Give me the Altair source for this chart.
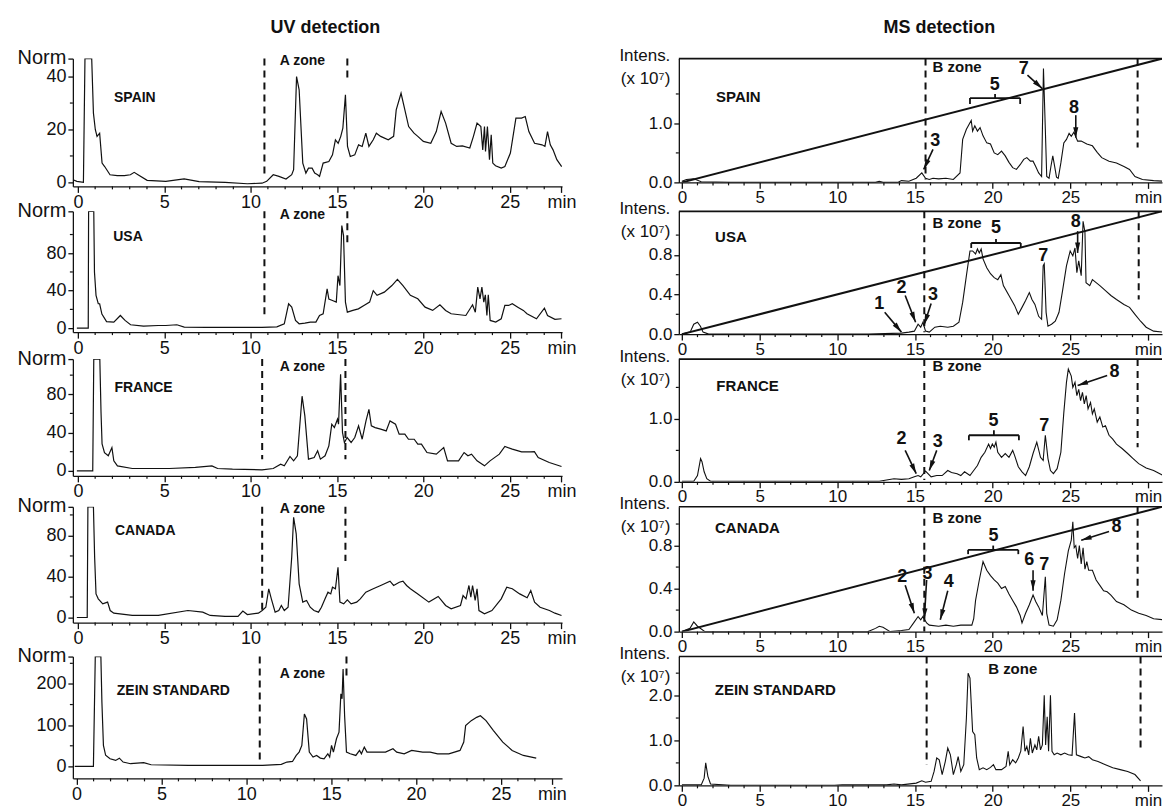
import math
import altair as alt
import pandas as pd

FONT = "Liberation Sans"
INK = "#111111"

# ---------------- UV traces: (time [min], absorbance [Norm]) ----------------
UV_SPAIN = [(-0.28, 1.0), (-0.06, 0.4), (0.32, 0.0), (0.41, 46.8), (0.8, 46.8), (0.9, 26.2), (1.01, 19.9),
            (1.11, 17.4), (1.26, 18.6), (1.4, 7.3), (1.55, 6.0), (1.86, 2.9), (2.28, 2.6), (2.69, 2.6),
            (3.04, 2.9), (3.26, 3.8), (3.48, 2.9), (4.01, 0.8), (5.09, 0.4), (6.15, 1.3), (7.02, 0.3),
            (8.52, 0.0), (9.81, -0.5), (10.66, -0.3), (10.93, 0.4), (11.31, 2.9), (11.64, 2.3), (12.05, 1.3),
            (12.38, 2.9), (12.49, 4.8), (12.66, 40.0), (12.81, 35.0), (13.02, 7.3), (13.2, 3.5), (13.35, 5.4),
            (13.56, 5.4), (13.71, 3.5), (13.88, 2.9), (13.99, 2.3), (14.2, 7.3), (14.53, 7.9), (14.74, 10.4),
            (14.91, 16.1), (15.07, 14.8), (15.22, 17.4), (15.34, 20.5), (15.49, 33.1), (15.61, 13.6),
            (15.77, 9.8), (16.03, 10.4), (16.25, 14.2), (16.46, 13.6), (16.67, 18.6), (16.85, 13.6),
            (17.1, 16.1), (17.28, 18.6), (17.53, 17.4), (17.97, 16.1), (18.28, 17.4), (18.43, 27.4),
            (18.71, 33.7), (18.93, 27.4), (19.15, 21.1), (19.46, 18.6), (19.68, 17.4), (20.0, 15.5),
            (20.43, 14.8), (20.75, 19.2), (21.03, 26.8), (21.29, 22.4), (21.61, 14.8), (21.93, 13.6),
            (22.26, 13.8), (22.69, 13.0), (22.9, 17.4), (23.11, 22.4), (23.33, 21.1), (23.44, 12.3),
            (23.54, 21.1), (23.6, 11.7), (23.71, 21.1), (23.83, 8.6), (23.93, 18.0), (24.02, 7.3),
            (24.18, 6.3), (24.51, 5.4), (24.72, 6.0), (25.04, 11.1), (25.36, 24.3), (25.69, 24.3),
            (25.9, 24.9), (26.11, 19.2), (26.44, 14.8), (26.87, 14.2), (27.04, 13.6), (27.19, 19.2),
            (27.35, 14.2), (27.51, 12.3), (27.73, 8.6), (28.01, 6.0)]

UV_USA = [(-0.06, 0), (0.6, 0), (0.62, 124.8), (0.92, 124.8), (0.96, 60), (1.05, 35), (1.18, 26), (1.26, 26),
          (1.39, 15), (1.66, 7), (2.08, 6.4), (2.46, 13.5), (2.73, 8.2), (3.05, 3.6), (3.8, 2.1), (4.65, 2.8),
          (5.09, 2.8), (5.73, 3.6), (6.16, 1.1), (7.45, 0.7), (9.6, 0.7), (10.66, 0.7), (11.52, 1.4),
          (11.95, 4.6), (12.2, 26), (12.38, 22.4), (12.6, 8.2), (12.81, 4.6), (13.14, 5.3), (13.46, 6.4),
          (13.78, 6.4), (13.99, 13.5), (14.2, 15.3), (14.43, 42), (14.53, 31), (14.74, 29.5), (14.96, 27.8),
          (15.06, 56), (15.17, 45.5), (15.28, 109.6), (15.38, 98.9), (15.49, 27.8), (15.6, 17), (15.92, 18.9),
          (16.24, 20.6), (16.56, 24.2), (16.89, 27.8), (17.1, 40), (17.32, 35), (17.74, 38.4), (18.18, 45.5),
          (18.5, 52), (18.82, 45.5), (19.25, 35), (19.68, 31.3), (20.1, 22.4), (20.54, 18.9), (20.96, 24.9),
          (21.29, 18.9), (21.61, 15.3), (22.46, 13.5), (22.85, 24.9), (23.01, 17), (23.15, 43.8),
          (23.28, 31.3), (23.39, 43.8), (23.5, 27.8), (23.59, 35.6), (23.68, 13.5), (23.76, 35.6),
          (23.87, 8.2), (24.19, 6.4), (24.51, 10), (24.72, 24.2), (24.94, 24.2), (25.15, 26), (25.47, 22.4),
          (25.79, 18.9), (26.0, 15.3), (26.55, 10), (27.01, 21.4), (27.19, 13.5), (27.62, 9.3), (28.0, 10)]

UV_FRANCE = [(-0.06, 0), (0.86, 0), (0.92, 116.8), (1.27, 116.8), (1.34, 61), (1.4, 28), (1.54, 19),
             (1.76, 15.7), (1.97, 24.3), (2.08, 10.4), (2.29, 5.2), (3.15, 2.4), (5.3, 2.4), (6.8, 3.5),
             (7.76, 5.2), (8.09, 2.4), (8.95, 1.7), (10.66, 1.0), (11.31, 2.4), (11.74, 7.0), (11.95, 5.2),
             (12.28, 15), (12.49, 10.4), (12.71, 15.7), (12.98, 78), (13.14, 57.4), (13.35, 12.2),
             (13.68, 13.9), (13.88, 20.9), (14.04, 12.2), (14.31, 15.7), (14.53, 26.1), (14.7, 48.7),
             (14.85, 45.2), (15.03, 53.9), (15.09, 48.7), (15.21, 100.9), (15.32, 40), (15.43, 29.6),
             (15.59, 34.8), (15.82, 29.6), (16.03, 34.8), (16.25, 47), (16.46, 33), (16.68, 52.2),
             (16.85, 64.3), (16.99, 47), (17.21, 45.2), (17.53, 43.5), (17.85, 41.7), (18.07, 52.2),
             (18.39, 48.7), (18.6, 38.3), (18.93, 38.3), (19.14, 33), (19.47, 33), (19.68, 27.8),
             (19.89, 27.8), (20.21, 19.1), (20.75, 17.4), (21.18, 24.3), (21.4, 10.4), (22.04, 10.4),
             (22.36, 19.1), (22.58, 15.7), (22.79, 17.4), (23.11, 10.4), (23.54, 5.2), (23.86, 10.4),
             (24.4, 17.4), (24.72, 25.4), (25.15, 22.6), (25.69, 19.8), (26.22, 19.8), (26.43, 20),
             (26.65, 13.9), (27.29, 8.7), (28.0, 4.5)]

UV_CANADA = [(-0.06, 0), (0.54, 0), (0.58, 107.9), (0.9, 107.9), (0.97, 58.8), (1.05, 23), (1.18, 18.2),
             (1.44, 13.3), (1.72, 15), (1.87, 6.8), (2.08, 4.2), (3.15, 2), (4.66, 2), (6.37, 6.8), (7.23, 5.2),
             (7.66, 2), (8.52, 1), (9.27, 1), (9.55, 6.2), (9.81, 2.9), (10.45, 4.2), (10.67, 6.8), (10.88, 10),
             (11.05, 28), (11.2, 18.2), (11.42, 5.2), (11.63, 6.8), (11.78, 11.7), (11.95, 6.8), (12.17, 10),
             (12.38, 58.8), (12.49, 97.7), (12.64, 81.5), (12.81, 32.8), (13.02, 15), (13.24, 16.6),
             (13.45, 10), (13.67, 6.8), (13.93, 5.2), (14.1, 10), (14.31, 18.2), (14.48, 24.7), (14.64, 23),
             (14.74, 29.5), (14.91, 27.9), (15.06, 49), (15.17, 15), (15.39, 13.3), (15.6, 17.2),
             (15.82, 13.3), (16.14, 15), (16.35, 18.2), (16.67, 24.7), (17.1, 28), (17.53, 31.2),
             (18.07, 35.4), (18.28, 31.2), (18.61, 34.4), (18.82, 35.4), (19.03, 31.2), (19.25, 28),
             (19.68, 23), (20.32, 15), (20.86, 20.5), (21.29, 11.7), (21.61, 8.4), (22.15, 11.7), (22.3, 21.4),
             (22.47, 18.2), (22.64, 31.2), (22.75, 19.8), (22.85, 31.2), (23.0, 16.6), (23.11, 27.9),
             (23.22, 6.8), (23.54, 3.6), (23.97, 6.8), (24.51, 18.2), (24.83, 29.5), (25.15, 28), (25.58, 23),
             (26.01, 19.2), (26.22, 26.3), (26.44, 15), (26.76, 10), (27.3, 6.8), (27.62, 4.2), (28.0, 2)]

UV_ZEIN = [(-0.11, 0), (0.99, 0), (1.1, 266.4), (1.43, 266.4), (1.49, 156), (1.58, 51), (1.71, 27), (1.97, 18.5),
           (2.3, 14.5), (2.52, 20), (2.74, 10.5), (3.18, 6.5), (3.95, 9), (4.39, 4), (6.58, 2.4), (8.77, 2.4),
           (10.96, 2.4), (12.06, 4.8), (12.39, 10.5), (12.72, 12), (12.94, 26.6), (13.11, 34.7), (13.27, 51),
           (13.42, 127), (13.55, 115), (13.71, 34.7), (13.93, 22.6), (14.14, 26.6), (14.36, 20.2),
           (14.58, 18.5), (14.8, 30.6), (14.91, 22.6), (15.02, 51), (15.13, 34.7), (15.31, 67), (15.46, 83),
           (15.57, 176), (15.64, 164), (15.7, 236), (15.79, 123), (15.9, 34.7), (16.12, 30.6), (16.45, 26.6),
           (16.67, 38.7), (16.78, 30.6), (16.95, 46.8), (17.11, 34.7), (17.54, 34.7), (18.2, 34.7),
           (18.64, 42.7), (18.86, 34.7), (19.3, 30.6), (19.74, 38.7), (20.39, 34.7), (20.83, 34.7),
           (21.27, 30.6), (21.93, 30.6), (22.59, 38.7), (22.81, 58.9), (22.92, 99), (23.25, 111),
           (23.57, 119), (23.79, 123), (24.12, 111), (24.56, 87), (25.11, 58.9), (25.66, 38.7),
           (26.32, 26.6), (27.08, 20.2)]

# ---------------- MS traces: (time [min], intensity [x 10^7]) ----------------
MS_SPAIN = [(0, 0.02), (0.29, 0.05), (0.76, 0.06), (1.24, 0.01), (3.15, 0), (12.46, 0), (12.7, 0.02),
            (12.94, 0), (13.89, 0), (14.13, 0.03), (14.61, 0.02), (15.08, 0.07), (15.44, 0.16), (15.68, 0.07),
            (15.92, 0.05), (16.16, 0.07), (16.52, 0.06), (16.99, 0.07), (17.47, 0.05), (17.9, 0.16),
            (18.07, 0.73), (18.31, 0.9), (18.62, 1.05), (18.71, 0.87), (18.85, 0.96), (19.02, 0.87),
            (19.19, 0.93), (19.38, 0.79), (19.62, 0.67), (19.86, 0.65), (20.1, 0.5), (20.33, 0.47),
            (20.57, 0.53), (20.81, 0.45), (21.05, 0.34), (21.29, 0.25), (21.53, 0.22), (21.77, 0.3),
            (22.0, 0.39), (22.2, 0.42), (22.43, 0.36), (22.6, 0.36), (22.77, 0.27), (22.96, 0.16),
            (23.15, 0.1), (23.27, 1.93), (23.39, 0.9), (23.48, 0.1), (23.63, 0.07), (23.75, 0.27),
            (23.87, 0.45), (23.99, 0.27), (24.11, 0.09), (24.22, 0.07), (24.39, 0.33), (24.58, 0.67),
            (24.75, 0.73), (24.92, 0.83), (25.06, 0.78), (25.23, 0.85), (25.47, 0.7), (25.7, 0.7),
            (26.06, 0.65), (26.42, 0.62), (26.73, 0.51), (27.02, 0.42), (27.49, 0.36), (27.97, 0.33),
            (28.45, 0.27), (28.81, 0.22), (29.16, 0.1), (29.64, 0.05), (30.36, 0.03), (31.0, 0.02)]

MS_USA = [(0, 0), (0.53, 0.02), (0.76, 0.1), (1.0, 0.12), (1.19, 0.08), (1.36, 0.02), (1.72, 0), (3.15, 0),
          (10.31, 0), (11.98, 0), (14.13, 0.01), (14.61, 0.02), (14.96, 0.03), (15.2, 0.1), (15.37, 0.07),
          (15.51, 0.12), (15.68, 0.03), (15.92, 0.02), (16.28, 0.07), (16.63, 0.08), (17.11, 0.07),
          (17.47, 0.08), (17.83, 0.12), (18.07, 0.32), (18.31, 0.59), (18.54, 0.84), (18.71, 0.84),
          (18.9, 0.81), (19.02, 0.86), (19.14, 0.82), (19.26, 0.86), (19.38, 0.76), (19.62, 0.67),
          (19.86, 0.61), (20.1, 0.57), (20.33, 0.55), (20.53, 0.6), (20.69, 0.49), (21.05, 0.39),
          (21.41, 0.29), (21.65, 0.2), (21.89, 0.27), (22.12, 0.34), (22.36, 0.42), (22.53, 0.35),
          (22.72, 0.3), (22.96, 0.18), (23.15, 0.15), (23.25, 0.69), (23.32, 0.71), (23.44, 0.22),
          (23.56, 0.08), (23.79, 0.1), (24.03, 0.13), (24.27, 0.22), (24.51, 0.45), (24.75, 0.69),
          (24.99, 0.84), (25.16, 0.79), (25.3, 0.87), (25.42, 0.62), (25.54, 0.74), (25.7, 0.59),
          (25.82, 1.14), (25.94, 1.03), (26.01, 0.52), (26.25, 0.49), (26.42, 0.55), (26.66, 0.52),
          (26.9, 0.49), (27.26, 0.44), (27.61, 0.39), (27.97, 0.35), (28.45, 0.3), (28.81, 0.27),
          (29.16, 0.2), (29.52, 0.13), (29.88, 0.07), (30.36, 0.03), (31.0, 0.02)]

MS_FRANCE = [(0, 0.01), (0.76, 0.01), (1.0, 0.1), (1.2, 0.37), (1.29, 0.32), (1.43, 0.16), (1.6, 0.05),
             (1.84, 0.01), (7.92, 0.01), (12.7, 0.01), (13.17, 0.03), (13.65, 0.05), (14.13, 0.04),
             (14.61, 0.05), (14.96, 0.08), (15.2, 0.1), (15.37, 0.08), (15.68, 0.17), (16.04, 0.08),
             (16.4, 0.1), (16.75, 0.1), (17.11, 0.18), (17.35, 0.15), (17.71, 0.13), (17.95, 0.1),
             (18.19, 0.16), (18.54, 0.1), (18.78, 0.18), (19.02, 0.26), (19.26, 0.39), (19.5, 0.47),
             (19.74, 0.6), (19.86, 0.53), (19.98, 0.6), (20.1, 0.55), (20.21, 0.63), (20.33, 0.47),
             (20.57, 0.39), (20.81, 0.45), (21.05, 0.39), (21.29, 0.5), (21.41, 0.42), (21.65, 0.24),
             (21.89, 0.16), (22.12, 0.1), (22.36, 0.24), (22.6, 0.45), (22.84, 0.63), (23.08, 0.39),
             (23.25, 0.34), (23.39, 0.74), (23.56, 0.37), (23.72, 0.18), (23.91, 0.13), (24.15, 0.21),
             (24.39, 0.47), (24.58, 1.1), (24.75, 1.58), (24.87, 1.79), (25.06, 1.68), (25.16, 1.5),
             (25.3, 1.58), (25.42, 1.37), (25.54, 1.47), (25.66, 1.29), (25.78, 1.42), (25.9, 1.24),
             (26.02, 1.37), (26.14, 1.16), (26.3, 1.26), (26.42, 1.08), (26.54, 1.16), (26.73, 0.95),
             (26.9, 1.03), (27.09, 0.87), (27.26, 0.89), (27.49, 0.74), (27.73, 0.68), (27.97, 0.6),
             (28.33, 0.53), (28.69, 0.45), (29.04, 0.37), (29.4, 0.29), (29.88, 0.22), (30.36, 0.18),
             (31.0, 0.1)]

MS_CANADA = [(0, 0), (0.52, 0.03), (0.76, 0.09), (1.0, 0.05), (1.48, 0), (3.15, 0), (11.98, 0), (12.46, 0.03),
             (12.7, 0.05), (12.94, 0.04), (13.4, 0), (14.13, 0.01), (14.61, 0.02), (14.96, 0.09), (15.2, 0.14),
             (15.37, 0.11), (15.51, 0.14), (15.75, 0.08), (15.92, 0.06), (16.52, 0.05), (16.99, 0.06),
             (17.47, 0.05), (17.95, 0.06), (18.43, 0.06), (18.66, 0.06), (18.78, 0.12), (18.9, 0.29),
             (19.14, 0.48), (19.38, 0.65), (19.62, 0.57), (19.86, 0.52), (20.1, 0.48), (20.33, 0.45),
             (20.57, 0.4), (20.81, 0.42), (21.05, 0.35), (21.29, 0.29), (21.53, 0.23), (21.77, 0.15),
             (21.89, 0.08), (22.12, 0.17), (22.36, 0.25), (22.6, 0.34), (22.77, 0.28), (22.96, 0.23),
             (23.2, 0.15), (23.39, 0.51), (23.48, 0.17), (23.63, 0.06), (23.91, 0.05), (24.15, 0.11),
             (24.39, 0.29), (24.63, 0.54), (24.87, 0.75), (25.06, 0.85), (25.16, 1.02), (25.25, 0.78),
             (25.35, 0.8), (25.47, 0.68), (25.58, 0.8), (25.7, 0.63), (25.82, 0.78), (25.94, 0.58),
             (26.06, 0.65), (26.18, 0.57), (26.42, 0.57), (26.66, 0.48), (26.9, 0.43), (27.14, 0.38),
             (27.37, 0.37), (27.61, 0.34), (27.97, 0.28), (28.45, 0.25), (28.93, 0.2), (29.4, 0.17),
             (29.88, 0.15), (30.36, 0.12), (31.0, 0.11)]

MS_ZEIN = [(0, 0.01), (1.24, 0.01), (1.43, 0.16), (1.53, 0.5), (1.67, 0.2), (1.84, 0.03), (3.15, 0), (7.92, 0),
           (9.83, 0), (10.31, 0.01), (10.79, 0.01), (13.17, 0.01), (13.65, 0.03), (14.13, 0.01), (15.08, 0.05),
           (15.44, 0.1), (15.68, 0.07), (16.04, 0.09), (16.23, 0.31), (16.4, 0.61), (16.56, 0.57),
           (16.75, 0.24), (16.95, 0.53), (17.11, 0.83), (17.28, 0.68), (17.47, 0.24), (17.66, 0.46),
           (17.78, 0.64), (17.95, 0.31), (18.14, 0.46), (18.31, 1.5), (18.42, 2.5), (18.54, 2.39),
           (18.71, 1.2), (18.85, 1.13), (18.97, 0.61), (19.14, 0.35), (19.38, 0.39), (19.62, 0.35),
           (19.86, 0.4), (20.05, 0.46), (20.21, 0.35), (20.57, 0.35), (20.86, 0.42), (21.0, 0.76),
           (21.1, 0.46), (21.29, 0.57), (21.48, 0.5), (21.65, 0.61), (21.81, 0.76), (21.96, 1.31),
           (22.08, 0.76), (22.2, 0.87), (22.32, 0.68), (22.43, 1.05), (22.55, 0.72), (22.72, 0.9),
           (22.84, 0.79), (22.96, 1.09), (23.08, 0.79), (23.2, 0.9), (23.32, 2.01), (23.41, 0.9),
           (23.51, 1.53), (23.6, 0.76), (23.72, 2.01), (23.82, 0.76), (23.96, 0.68), (24.15, 0.72),
           (24.39, 0.68), (24.63, 0.72), (24.87, 0.68), (25.11, 0.67), (25.27, 1.61), (25.39, 0.68),
           (25.7, 0.64), (25.94, 0.61), (26.18, 0.64), (26.42, 0.57), (26.78, 0.53), (27.26, 0.46),
           (27.73, 0.39), (28.21, 0.35), (28.69, 0.31), (29.16, 0.24), (29.52, 0.1)]

# solvent-gradient line on three MS panels (runs corner to corner of the plot frame)
GRADIENT_T = [0.0, 30.9]

UV_PANELS = [
    dict(name="SPAIN", trace=UV_SPAIN, label=(3.3, 31.8), zone=(13.0, 46.0),
         dashes=[(10.8, 46.8, 2.3), (15.6, 46.8, 39.4)], xdom=(-0.29, 28.03), ydom=(-1.5, 46.8),
         ylabels=[0, 20, 40], yminor=[10, 30], h=128, min_label="\u2002\u2002min"),
    dict(name="USA", trace=UV_USA, label=(2.9, 97), zone=(13.0, 121),
         dashes=[(10.8, 124.8, 10), (15.6, 124.8, 88)], xdom=(-0.29, 28.03), ydom=(-4.3, 124.8),
         ylabels=[0, 40, 80], yminor=[20, 60, 100], h=121, min_label="\u2002\u2002min"),
    dict(name="FRANCE", trace=UV_FRANCE, label=(3.8, 87), zone=(13.0, 109),
         dashes=[(10.67, 116.8, 12), (15.49, 116.8, 12)], xdom=(-0.29, 28.03), ydom=(-5.3, 116.8),
         ylabels=[0, 40, 80], yminor=[20, 60, 100], h=117, min_label="\u2002\u2002min"),
    dict(name="CANADA", trace=UV_CANADA, label=(3.9, 84.7), zone=(13.0, 106),
         dashes=[(10.67, 107.9, 7), (15.49, 107.9, 55)], xdom=(-0.29, 28.03), ydom=(-5.0, 107.9),
         ylabels=[0, 40, 80], yminor=[20, 60, 100], h=116, min_label="\u2002\u2002min"),
    dict(name="ZEIN STANDARD", trace=UV_ZEIN, label=(5.7, 184), zone=(13.3, 224),
         dashes=[(10.79, 266.4, 10.5), (15.9, 266.4, 212)], xdom=(-0.22, 28.6), ydom=(-29, 266.4),
         ylabels=[0, 100, 200], yminor=[50, 150, 250], h=122, min_label="min\u2002\u2002"),
]

MS_PANELS = [
    dict(name="SPAIN", trace=MS_SPAIN, h=124, ydom=(0, 2.1), ylabels=[0, 1], yminor=[0.5, 1.5],
         label=(3.63, 1.45), zone=(17.71, 1.95), dashes=[(15.68, 2.1, 0.05), (29.33, 2.1, 0.59)],
         grad=[0.0, 2.1], bracket=(18.54, 21.77, 1.43, 1.33, 1.5),
         numbers=[("3", 16.3, 0.7), ("5", 20.14, 1.65), ("7", 22.0, 1.93), ("8", 25.23, 1.26)],
         arrows=[(16.16, 0.56, 15.56, 0.22), (22.24, 1.82, 23.2, 1.59), (25.35, 1.14, 25.35, 0.76)]),
    dict(name="USA", trace=MS_USA, h=123, ydom=(0, 1.24), ylabels=[0, 0.4, 0.8], yminor=[0.2, 0.6, 1.0],
         label=(3.15, 0.98), zone=(17.71, 1.12),
         dashes=[(15.6, 1.24, 0.02), (29.4, 1.24, 0.35)], grad=[0.0, 1.24],
         bracket=(18.62, 21.81, 0.92, 0.87, 0.96),
         numbers=[("1", 12.7, 0.3), ("2", 14.13, 0.47), ("3", 16.16, 0.39), ("5", 20.21, 1.07),
                  ("7", 23.25, 0.79), ("8", 25.35, 1.13)],
         arrows=[(13.05, 0.22, 14.13, 0.02), (14.37, 0.39, 15.04, 0.12), (16.04, 0.31, 15.6, 0.1),
                 (25.47, 1.04, 25.47, 0.82)]),
    dict(name="FRANCE", trace=MS_FRANCE, h=123, ydom=(0, 1.95), ylabels=[0, 1], yminor=[0.5, 1.5],
         label=(4.22, 1.52), zone=(17.71, 1.84), dashes=[(15.6, 1.95, 0.03), (29.33, 1.95, 0.55)],
         grad=None, bracket=(18.47, 21.69, 0.74, 0.66, 0.82),
         numbers=[("2", 14.13, 0.68), ("3", 16.47, 0.63), ("5", 20.05, 0.96), ("7", 23.32, 0.89),
                  ("8", 27.85, 1.74)],
         arrows=[(14.37, 0.5, 15.08, 0.13), (16.4, 0.5, 15.92, 0.18), (27.37, 1.69, 25.47, 1.53)]),
    dict(name="CANADA", trace=MS_CANADA, h=125, ydom=(0, 1.16), ylabels=[0, 0.4, 0.8], yminor=[0.2, 0.6, 1.0],
         label=(4.22, 0.96), zone=(17.71, 1.06),
         dashes=[(15.6, 1.16, 0.0), (29.33, 1.16, 0.29)], grad=[0.0, 1.16],
         bracket=(18.42, 21.65, 0.76, 0.72, 0.8),
         numbers=[("2", 14.18, 0.51), ("3", 15.8, 0.54), ("4", 17.18, 0.46), ("5", 20.05, 0.89),
                  ("6", 22.36, 0.67), ("7", 23.32, 0.62), ("8", 27.97, 0.97)],
         arrows=[(14.37, 0.43, 14.96, 0.17), (15.75, 0.48, 15.6, 0.12), (17.11, 0.38, 16.63, 0.11),
                 (22.6, 0.57, 22.6, 0.38), (27.49, 0.93, 25.7, 0.85)]),
    dict(name="ZEIN STANDARD", trace=MS_ZEIN, h=129, ydom=(0, 2.87), ylabels=[0, 1, 2],
         yminor=[0.5, 1.5, 2.5], label=(6.01, 2.13), zone=(21.29, 2.6),
         dashes=[(15.75, 2.87, 0.46), (29.52, 2.87, 0.79)], grad=None, bracket=None, numbers=[], arrows=[]),
]

UV_W = 490
MS_W = 484
MS_XDOM = (-0.2, 30.9)
ARROW_HEAD = "M0,0L-0.42,1.7L0.42,1.7Z"
TXT = dict(font=FONT, color=INK)


def trace_df(points):
    return pd.DataFrame({"t": [p[0] for p in points], "v": [p[1] for p in points],
                         "i": list(range(len(points)))})


class Enc:
    """Shared x / y encodings for one panel; every layer carries the same axis definition."""

    def __init__(self, xs, ys, xaxis, yaxis):
        self.xs, self.ys, self.xaxis, self.yaxis = xs, ys, xaxis, yaxis

    def X(self, f):
        return alt.X(f, type="quantitative", scale=self.xs, axis=self.xaxis)

    def Y(self, f):
        return alt.Y(f, type="quantitative", scale=self.ys, axis=self.yaxis)


def minor_x(e, last, H):
    vals = [m for m in range(0, last + 1) if m % 5 != 0]
    return alt.Chart(pd.DataFrame({"t": vals})).mark_rule(color=INK, strokeWidth=1.2).encode(
        x=e.X("t"), y=alt.value(H), y2=alt.value(H + 3))


def minor_y(e, vals):
    return alt.Chart(pd.DataFrame({"v": vals})).mark_rule(color=INK, strokeWidth=1.2).encode(
        y=e.Y("v"), x=alt.value(0), x2=alt.value(-3))


def uv_panel(p, title=None):
    H = p["h"]
    xs = alt.Scale(domain=list(p["xdom"]), nice=False, zero=False)
    ys = alt.Scale(domain=list(p["ydom"]), nice=False, zero=False)
    top = p["ydom"][1]
    xaxis = alt.Axis(values=[0, 5, 10, 15, 20, 25, 28], title=None,
                     labelExpr=f"datum.value == 28 ? '{p['min_label']}' : datum.label", tickSize=6,
                     labelFontSize=18, labelPadding=1, labelOverlap=False, labelFlush=False)
    yaxis = alt.Axis(values=p["ylabels"] + [top], title="Norm", titleAngle=0, titleAlign="right",
                     titleBaseline="middle", titleX=-7, titleY=-1, titleFontSize=20,
                     titleFontWeight="normal",
                     labelExpr=f"datum.value == {top} ? '' : datum.label", tickSize=5,
                     labelFontSize=18, labelPadding=2, labelOverlap=False, labelFlush=False)
    e = Enc(xs, ys, xaxis, yaxis)
    layers = [alt.Chart(trace_df(p["trace"])).mark_line(color=INK, strokeWidth=1.2, clip=True).encode(
        x=e.X("t"), y=e.Y("v"), order=alt.Order("i:Q"))]
    layers.append(minor_x(e, 27, H))
    layers.append(minor_y(e, p["yminor"]))
    ddf = pd.DataFrame(p["dashes"], columns=["t", "v", "v2"])
    layers.append(alt.Chart(ddf).mark_rule(color=INK, strokeWidth=2, strokeDash=[7, 5]).encode(
        x=e.X("t"), y=e.Y("v"), y2="v2:Q"))
    tdf = pd.DataFrame([(p["label"][0], p["label"][1], p["name"]), (p["zone"][0], p["zone"][1], "A zone")],
                       columns=["t", "v", "s"])
    layers.append(alt.Chart(tdf).mark_text(fontWeight="bold", fontSize=14, **TXT).encode(
        x=e.X("t"), y=e.Y("v"), text="s:N"))
    if title:
        layers.append(alt.Chart(pd.DataFrame({"s": [title]})).mark_text(
            fontWeight="bold", fontSize=18, baseline="alphabetic", **TXT).encode(
            x=alt.value(UV_W / 2 + 8), y=alt.value(-26), text="s:N"))
    return alt.layer(*layers).properties(width=UV_W, height=H)


def ms_panel(p, title=None):
    H = p["h"]
    xs = alt.Scale(domain=list(MS_XDOM), nice=False, zero=False)
    ys = alt.Scale(domain=list(p["ydom"]), nice=False, zero=False)
    xaxis = alt.Axis(values=[0, 5, 10, 15, 20, 25, 30], title=None,
                     labelExpr="datum.value == 30 ? 'min\u2002' : datum.label", tickSize=6,
                     labelFontSize=17, labelPadding=1, labelOverlap=False, labelFlush=False)
    yaxis = alt.Axis(values=p["ylabels"], title=["Intens.", "(x 10\u2077)"], titleAngle=0,
                     titleAlign="right", titleBaseline="top", titleX=-9, titleY=-11, titleLineHeight=23,
                     titleFontSize=17, titleFontWeight="normal", format=".1f", tickSize=5,
                     labelFontSize=17, labelPadding=2, labelOverlap=False, labelFlush=False)
    e = Enc(xs, ys, xaxis, yaxis)
    layers = [alt.Chart(trace_df(p["trace"])).mark_line(color=INK, strokeWidth=1.1, clip=True).encode(
        x=e.X("t"), y=e.Y("v"), order=alt.Order("i:Q"))]
    layers.append(minor_x(e, 30, H))
    layers.append(minor_y(e, p["yminor"]))
    layers.append(alt.Chart(pd.DataFrame({"k": [0]})).mark_rule(color=INK, strokeWidth=1.6).encode(
        x=alt.value(0), x2=alt.value(MS_W), y=alt.value(0)))
    if p["grad"] is not None:
        gdf = pd.DataFrame({"t": GRADIENT_T, "v": p["grad"]})
        layers.append(alt.Chart(gdf).mark_line(color=INK, strokeWidth=2, clip=True).encode(
            x=e.X("t"), y=e.Y("v")))
    ddf = pd.DataFrame(p["dashes"], columns=["t", "v", "v2"])
    layers.append(alt.Chart(ddf).mark_rule(color=INK, strokeWidth=2, strokeDash=[7, 5]).encode(
        x=e.X("t"), y=e.Y("v"), y2="v2:Q"))
    tdf = pd.DataFrame([(p["label"][0], p["label"][1], p["name"]), (p["zone"][0], p["zone"][1], "B zone")],
                       columns=["t", "v", "s"])
    layers.append(alt.Chart(tdf).mark_text(fontWeight="bold", fontSize=15, **TXT).encode(
        x=e.X("t"), y=e.Y("v"), text="s:N"))
    if p["bracket"] is not None:
        ta, tb, vb, vend, vmid = p["bracket"]
        hdf = pd.DataFrame({"t": [ta], "t2": [tb], "v": [vb]})
        layers.append(alt.Chart(hdf).mark_rule(color=INK, strokeWidth=1.8).encode(
            x=e.X("t"), x2="t2:Q", y=e.Y("v")))
        vdf = pd.DataFrame({"t": [ta, tb, (ta + tb) / 2], "v": [vb, vb, vb], "v2": [vend, vend, vmid]})
        layers.append(alt.Chart(vdf).mark_rule(color=INK, strokeWidth=1.8).encode(
            x=e.X("t"), y=e.Y("v"), y2="v2:Q"))
    if p["numbers"]:
        ndf = pd.DataFrame(p["numbers"], columns=["s", "t", "v"])
        layers.append(alt.Chart(ndf).mark_text(fontWeight="bold", fontSize=18, **TXT).encode(
            x=e.X("t"), y=e.Y("v"), text="s:N"))
    if p["arrows"]:
        adf = pd.DataFrame(p["arrows"], columns=["t", "v", "t2", "v2"])
        kx = MS_W / (MS_XDOM[1] - MS_XDOM[0])
        ky = H / (p["ydom"][1] - p["ydom"][0])
        adf["ang"] = [math.degrees(math.atan2((r.t2 - r.t) * kx, (r.v2 - r.v) * ky)) % 360
                      for r in adf.itertuples()]
        layers.append(alt.Chart(adf).mark_rule(color=INK, strokeWidth=1.6).encode(
            x=e.X("t"), y=e.Y("v"), x2="t2:Q", y2="v2:Q"))
        hd = pd.DataFrame({"t": adf["t2"], "v": adf["v2"], "ang": adf["ang"]})
        layers.append(alt.Chart(hd).mark_point(shape=ARROW_HEAD, filled=True, size=150, color=INK,
                                               opacity=1, strokeWidth=0).encode(
            x=e.X("t"), y=e.Y("v"), angle=alt.Angle("ang:Q", scale=None)))
    if title:
        layers.append(alt.Chart(pd.DataFrame({"s": [title]})).mark_text(
            fontWeight="bold", fontSize=18, baseline="alphabetic", **TXT).encode(
            x=alt.value(MS_W / 2 + 19), y=alt.value(-26), text="s:N"))
    return alt.layer(*layers).properties(width=MS_W, height=H)


cells = []
for i, (u, m) in enumerate(zip(UV_PANELS, MS_PANELS)):
    cells.append(uv_panel(u, "UV detection" if i == 0 else None))
    cells.append(ms_panel(m, "MS detection" if i == 0 else None))

chart = alt.concat(*cells, columns=2, spacing={"row": 25, "column": 117}, bounds="flush",
                   align="each").properties(
    padding={"left": 17, "top": 18, "right": 0, "bottom": 0}, background="white"
).configure_view(stroke=None).configure_axis(
    domainColor=INK, tickColor=INK, labelColor=INK, titleColor=INK, labelFont=FONT, titleFont=FONT,
    grid=False, domainWidth=1.3, tickWidth=1.3
)

chart.save("out.html", embed_options={"renderer": "svg", "actions": False})
